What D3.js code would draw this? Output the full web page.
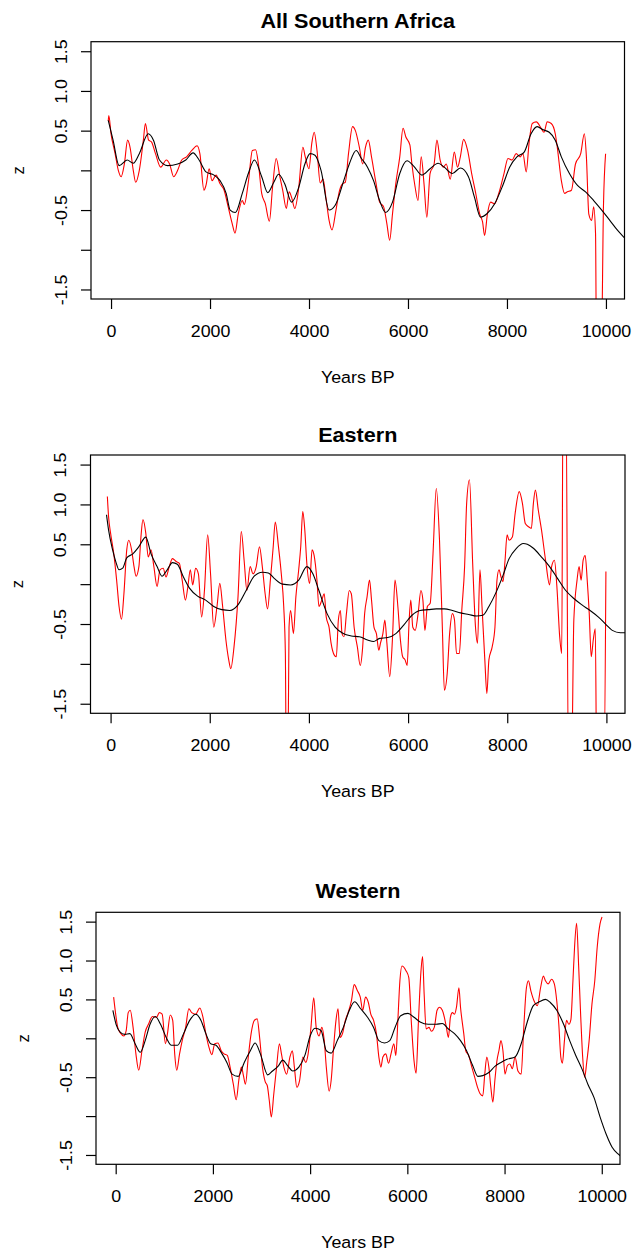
<!DOCTYPE html>
<html>
<head>
<meta charset="utf-8">
<script src="https://cdn.jsdelivr.net/npm/d3@7"></script>
<style>
  body { margin: 0; background: #fff; }
  svg text { font-family: "Liberation Sans", Arial, sans-serif; fill: #000; }
</style>
</head>
<body>
<div id="chart"></div>
<script>
// ---- data (years BP, z) ----
var xTicks = [0, 2000, 4000, 6000, 8000, 10000];
var yTicks = [-1.5, -1.0, -0.5, 0, 0.5, 1.0, 1.5];
var yTickLabels = {"-1.5": "-1.5", "-1": "", "-0.5": "-0.5", "0": "", "0.5": "0.5", "1": "1.0", "1.5": "1.5"};

var allRed = [[-57,0.62],[-45,0.69],[0,0.46],[82,0.21],[147,0],[204,-0.08],[269,0.08],[335,0.38],[384,0.29],[449,0],[498,-0.15],[571,0],[653,0.38],[694,0.59],[759,0.38],[816,0.36],[898,0.21],[1004,0.04],[1118,0.13],[1183,0.08],[1265,-0.08],[1346,0],[1428,0.13],[1526,0.17],[1632,0.25],[1738,0.31],[1795,0.21],[1877,-0.25],[1918,-0.19],[1983,0.02],[2040,-0.13],[2122,-0.06],[2203,-0.17],[2285,-0.25],[2367,-0.46],[2448,-0.67],[2505,-0.79],[2570,-0.55],[2652,-0.38],[2693,-0.43],[2774,-0.15],[2856,0.25],[2921,0.26],[2978,0.08],[3044,-0.29],[3117,-0.42],[3199,-0.64],[3264,-0.21],[3337,0.15],[3411,-0.08],[3468,-0.25],[3542,-0.48],[3599,-0.27],[3648,-0.34],[3713,-0.48],[3794,-0.21],[3876,0.29],[3925,0.17],[3999,0.02],[4056,0.34],[4105,0.48],[4162,0.25],[4227,-0.16],[4284,-0.11],[4349,-0.38],[4406,-0.63],[4464,-0.75],[4545,-0.5],[4610,-0.27],[4676,-0.17],[4733,-0.15],[4798,0.21],[4880,0.55],[4937,0.5],[5018,0.29],[5084,0.08],[5141,0.29],[5198,0.38],[5263,0.17],[5345,-0.13],[5427,-0.4],[5508,-0.46],[5573,-0.67],[5630,-0.88],[5687,-0.55],[5753,-0.17],[5834,0.17],[5900,0.53],[5957,0.42],[6038,0.32],[6079,0.08],[6144,-0.21],[6202,-0.38],[6267,0.17],[6324,-0.17],[6381,-0.59],[6446,-0.04],[6528,0.08],[6585,0.38],[6650,0.13],[6716,0.04],[6773,0.08],[6854,-0.11],[6936,0.23],[7001,0.04],[7058,0.17],[7124,0.39],[7205,0.25],[7287,-0.04],[7369,-0.29],[7450,-0.55],[7507,-0.65],[7548,-0.82],[7605,-0.55],[7670,-0.4],[7752,-0.42],[7834,-0.29],[7940,-0.04],[8021,0.15],[8103,0.13],[8185,0.21],[8266,0.17],[8323,0.21],[8389,-0.02],[8446,0.34],[8511,0.59],[8593,0.61],[8691,0.53],[8748,0.48],[8813,0.61],[8895,0.59],[8976,0.46],[9017,0.29],[9099,-0.13],[9164,-0.29],[9221,-0.27],[9303,-0.25],[9384,0.08],[9490,0.21],[9564,0.46],[9605,0.17],[9654,-0.55],[9711,-0.63],[9752,-0.46],[9790,-0.8],[9810,-2.4],[9905,-2.4],[9950,-0.45],[9993,0.21]];
var allSmooth = [[-57,0.63],[41,0.38],[163,0.06],[326,0.13],[449,0.09],[571,0.21],[751,0.46],[857,0.38],[979,0.13],[1142,0.06],[1346,0.08],[1510,0.13],[1657,0.22],[1779,0.13],[1918,-0.02],[2081,-0.06],[2203,-0.13],[2326,-0.29],[2407,-0.5],[2513,-0.53],[2652,-0.29],[2774,-0.04],[2897,0.13],[3044,-0.08],[3166,-0.28],[3289,-0.15],[3386,-0.05],[3509,-0.17],[3648,-0.4],[3794,-0.21],[3917,0.08],[4023,0.21],[4121,0.19],[4243,0],[4406,-0.5],[4529,-0.44],[4692,-0.15],[4814,0.08],[4953,0.25],[5059,0.15],[5182,0.04],[5304,-0.13],[5427,-0.38],[5549,-0.53],[5687,-0.4],[5834,-0.04],[5981,0.12],[6120,0.05],[6283,-0.06],[6446,0.02],[6610,0.09],[6732,0.04],[6895,-0.04],[7058,0.03],[7222,-0.08],[7344,-0.34],[7467,-0.59],[7589,-0.55],[7752,-0.42],[7915,-0.19],[8054,0.04],[8201,0.17],[8348,0.23],[8487,0.46],[8609,0.55],[8732,0.51],[8854,0.48],[8976,0.38],[9099,0.17],[9262,-0.04],[9425,-0.19],[9588,-0.27],[9752,-0.38],[9915,-0.5],[10078,-0.63],[10241,-0.76],[10421,-0.88]];

var eastRed = [[-65,1.1],[-41,0.85],[0,0.64],[65,0.38],[122,0.05],[171,-0.28],[220,-0.44],[269,-0.12],[326,0.43],[367,0.55],[424,0.43],[473,0.22],[514,0.1],[571,0.22],[612,0.59],[653,0.81],[710,0.64],[759,0.34],[816,0.43],[873,0.22],[938,-0.03],[996,0.18],[1061,0.2],[1118,0.09],[1183,0.22],[1248,0.32],[1330,0.28],[1387,0.26],[1444,0.05],[1510,-0.2],[1559,-0.03],[1608,0.18],[1657,-0.01],[1714,0.2],[1771,0.13],[1836,-0.41],[1893,-0.08],[1958,0.62],[2016,0.13],[2081,-0.54],[2146,-0.28],[2203,0.01],[2260,-0.28],[2326,-0.7],[2383,-0.95],[2424,-1.06],[2489,-0.79],[2570,-0.16],[2636,0.66],[2693,0.3],[2750,-0.08],[2815,0.22],[2872,0.13],[2938,0.22],[3003,0.47],[3060,0.22],[3117,-0.12],[3166,-0.31],[3223,0.05],[3280,0.47],[3321,0.78],[3386,0.47],[3443,0.13],[3492,-0.28],[3525,-0.87],[3545,-2.4],[3575,-2.4],[3599,-0.54],[3631,-0.33],[3688,-0.62],[3737,-0.16],[3794,0.18],[3835,0.47],[3876,0.91],[3917,0.68],[3958,0.26],[4015,0.01],[4064,0.43],[4105,0.36],[4162,0.05],[4202,-0.28],[4260,-0.2],[4309,-0.12],[4349,-0.41],[4406,-0.54],[4447,-0.74],[4512,-0.89],[4553,-0.91],[4594,-0.45],[4635,-0.33],[4667,-0.62],[4708,-0.66],[4757,-0.37],[4814,-0.08],[4855,-0.12],[4912,-0.54],[4978,-0.79],[5035,-1.02],[5084,-0.79],[5124,-0.37],[5173,-0.16],[5222,0.05],[5263,-0.2],[5312,-0.54],[5361,-0.62],[5410,-0.83],[5443,-0.74],[5492,-0.62],[5532,-0.45],[5573,-0.74],[5630,-1.16],[5687,-0.66],[5736,0.05],[5794,-0.28],[5834,-0.62],[5891,-0.91],[5940,-0.95],[5981,-1.02],[6022,-0.45],[6055,-0.2],[6095,-0.54],[6144,-0.58],[6202,-0.37],[6259,-0.08],[6299,-0.2],[6340,-0.58],[6389,-0.28],[6446,-0.24],[6503,0.38],[6569,1.2],[6634,0.55],[6691,-0.54],[6732,-1.33],[6789,-1.12],[6838,-0.62],[6895,-0.37],[6936,-0.45],[6977,-0.87],[7034,-0.87],[7083,-0.33],[7140,0.22],[7181,1.01],[7238,1.31],[7303,0.26],[7360,-0.54],[7401,-0.74],[7450,0.18],[7491,-0.28],[7548,-0.95],[7589,-1.37],[7630,-0.95],[7695,-0.79],[7752,-0.54],[7793,0.05],[7834,0.18],[7875,0.09],[7915,0.03],[7956,0.3],[7997,0.62],[8038,0.55],[8103,0.59],[8160,0.89],[8242,1.16],[8307,1.01],[8364,0.76],[8429,0.72],[8487,0.7],[8527,1.01],[8568,1.18],[8626,0.93],[8691,0.68],[8773,0.3],[8854,-0.01],[8895,0.22],[8952,0.3],[9001,-0.03],[9058,-0.66],[9099,-0.87],[9125,2.4],[9185,2.4],[9235,-2.4],[9295,-2.4],[9343,-0.45],[9408,0.05],[9449,0.22],[9490,0.05],[9531,0.3],[9572,0.36],[9613,0.05],[9654,-0.37],[9694,-0.91],[9735,-0.7],[9776,-0.56],[9805,-2.4],[9950,-2.4],[9990,0.16]];
var eastSmooth = [[-82,0.87],[-41,0.68],[41,0.43],[106,0.28],[171,0.18],[245,0.2],[326,0.33],[449,0.38],[571,0.47],[710,0.59],[816,0.38],[938,0.22],[1036,0.1],[1142,0.18],[1248,0.27],[1346,0.25],[1469,0.09],[1591,-0.05],[1754,-0.15],[1918,-0.2],[2081,-0.28],[2244,-0.32],[2407,-0.33],[2570,-0.26],[2734,-0.08],[2897,0.1],[3060,0.15],[3182,0.14],[3305,0.07],[3468,0],[3631,-0.01],[3794,0.05],[3958,0.22],[4080,0.13],[4202,-0.08],[4366,-0.37],[4529,-0.54],[4692,-0.62],[4855,-0.65],[5018,-0.66],[5182,-0.7],[5304,-0.72],[5427,-0.68],[5590,-0.67],[5753,-0.62],[5916,-0.51],[6079,-0.39],[6242,-0.33],[6406,-0.32],[6569,-0.31],[6732,-0.31],[6895,-0.33],[7058,-0.36],[7222,-0.38],[7385,-0.4],[7507,-0.39],[7630,-0.28],[7777,-0.1],[7915,0.11],[8038,0.32],[8185,0.45],[8323,0.51],[8405,0.5],[8527,0.45],[8691,0.34],[8854,0.22],[9017,0.07],[9180,-0.08],[9343,-0.18],[9507,-0.26],[9670,-0.33],[9834,-0.41],[9997,-0.51],[10118,-0.58],[10282,-0.61],[10421,-0.61]];

var westRed = [[-42,0.53],[0,0.31],[42,0.14],[108,0.06],[166,0.03],[216,0.1],[258,0.33],[299,0.36],[358,0.14],[416,-0.2],[474,-0.41],[541,-0.16],[607,0.08],[674,0.18],[757,0.28],[840,0.27],[898,0.33],[956,0.31],[1023,-0.07],[1065,0.06],[1123,0.3],[1173,0.23],[1214,-0.2],[1256,-0.41],[1314,-0.2],[1372,-0.02],[1439,0.14],[1505,0.38],[1564,0.33],[1647,0.31],[1730,0.39],[1796,0.27],[1855,0.06],[1921,-0.12],[1979,-0.21],[2038,-0.07],[2104,-0.06],[2171,-0.16],[2229,-0.2],[2296,-0.22],[2354,-0.37],[2420,-0.59],[2479,-0.79],[2537,-0.52],[2587,-0.37],[2628,-0.48],[2670,-0.59],[2728,-0.24],[2786,0.06],[2853,0.23],[2911,0.25],[2961,0.01],[3019,-0.37],[3077,-0.56],[3119,-0.61],[3160,-0.8],[3202,-1.01],[3252,-0.72],[3310,-0.37],[3368,-0.07],[3410,-0.2],[3460,-0.37],[3518,-0.46],[3585,-0.24],[3635,-0.16],[3676,-0.37],[3726,-0.63],[3784,-0.54],[3851,-0.24],[3909,-0.31],[3959,-0.2],[4017,0.14],[4075,0.52],[4125,0.14],[4183,0.03],[4241,0.14],[4291,-0.03],[4333,-0.37],[4391,-0.68],[4433,-0.54],[4483,-0.12],[4532,0.23],[4574,0.38],[4616,0.01],[4666,0.06],[4724,0.23],[4782,0.33],[4849,0.48],[4907,0.69],[4974,0.61],[5032,0.53],[5082,0.36],[5140,0.53],[5198,0.46],[5248,0.31],[5306,0.23],[5364,0.06],[5414,-0.24],[5456,-0.37],[5497,-0.24],[5556,-0.2],[5614,-0.32],[5664,-0.2],[5722,-0.07],[5764,-0.22],[5805,0.23],[5847,0.74],[5889,0.93],[5972,0.87],[6030,0.78],[6080,0.23],[6138,-0.29],[6180,-0.45],[6229,0.23],[6279,0.85],[6313,1.05],[6346,0.57],[6387,0.12],[6446,0.14],[6496,0.09],[6554,0.14],[6612,0.36],[6662,0.4],[6720,0.36],[6762,0.27],[6803,0.14],[6845,0.01],[6886,0.27],[6928,0.33],[6970,0.31],[7011,0.4],[7061,0.65],[7094,0.4],[7161,0.06],[7202,-0.16],[7261,-0.22],[7327,-0.37],[7385,-0.5],[7444,-0.63],[7494,-0.71],[7552,-0.74],[7593,-0.46],[7635,-0.24],[7677,-0.37],[7718,-0.63],[7760,-0.82],[7801,-0.54],[7843,-0.29],[7884,-0.16],[7926,-0.03],[7967,-0.16],[8009,-0.46],[8059,-0.35],[8109,-0.33],[8159,-0.39],[8217,-0.24],[8275,-0.42],[8342,-0.46],[8392,0.1],[8450,0.65],[8492,0.74],[8541,0.61],[8608,0.48],[8675,0.42],[8741,0.65],[8799,0.8],[8841,0.74],[8899,0.7],[8966,0.76],[9024,0.7],[9074,0.48],[9116,0.18],[9157,-0.24],[9190,-0.32],[9232,-0.03],[9274,0.23],[9324,0.18],[9365,0.24],[9407,0.74],[9440,1.17],[9482,1.48],[9523,0.95],[9565,0.31],[9607,-0.24],[9648,-0.5],[9690,-0.31],[9740,-0.03],[9798,0.44],[9856,0.74],[9906,1.17],[9964,1.47],[10005,1.56]];
var westSmooth = [[-58,0.36],[8,0.18],[91,0.08],[191,0.05],[291,0.06],[399,-0.07],[507,-0.18],[607,-0.03],[707,0.18],[815,0.28],[923,0.18],[1040,0.01],[1148,-0.09],[1272,-0.09],[1397,0.06],[1522,0.23],[1647,0.31],[1755,0.23],[1855,0.06],[1955,-0.07],[2063,-0.09],[2188,-0.2],[2287,-0.31],[2395,-0.46],[2520,-0.49],[2645,-0.31],[2770,-0.16],[2869,-0.06],[2977,-0.2],[3127,-0.47],[3227,-0.42],[3352,-0.35],[3435,-0.28],[3535,-0.35],[3643,-0.42],[3768,-0.37],[3892,-0.22],[4000,0.03],[4100,0.13],[4225,0.1],[4333,-0.16],[4433,-0.19],[4558,-0.03],[4683,0.14],[4807,0.36],[4915,0.47],[5040,0.38],[5181,0.27],[5306,0.14],[5414,-0.03],[5531,-0.06],[5639,-0.03],[5747,0.14],[5863,0.29],[6013,0.32],[6138,0.27],[6263,0.21],[6429,0.18],[6595,0.18],[6720,0.19],[6845,0.12],[6970,0.06],[7094,-0.03],[7219,-0.16],[7344,-0.35],[7452,-0.49],[7552,-0.48],[7677,-0.44],[7801,-0.36],[7926,-0.31],[8051,-0.27],[8217,-0.24],[8342,-0.07],[8467,0.21],[8592,0.42],[8717,0.47],[8841,0.5],[8941,0.46],[9074,0.36],[9215,0.18],[9340,-0.03],[9465,-0.22],[9590,-0.39],[9714,-0.59],[9839,-0.76],[9964,-1.01],[10089,-1.23],[10213,-1.4],[10321,-1.48],[10380,-1.51]];

// ---- layout ----
var W = 632, H = 1253;
var axisFont = 16.5, titleFont = 20, stretch = 1.08;

var panels = [
  {title: "All Southern Africa", red: allRed, black: allSmooth, left: 91, right: 624.5, top: 41.7, bottom: 299, titleY: 28},
  {title: "Eastern", red: eastRed, black: eastSmooth, left: 90.5, right: 625, top: 455, bottom: 713.3, titleY: 442},
  {title: "Western", red: westRed, black: westSmooth, left: 96, right: 620, top: 912.3, bottom: 1164.3, titleY: 898}
];

var svg = d3.select("#chart").append("svg")
  .attr("width", W)
  .attr("height", H);

panels.forEach(function(p, i) {
  var x = d3.scaleLinear().domain([-405, 10375]).range([p.left, p.right]);
  var y = d3.scaleLinear().domain([-1.62, 1.62]).range([p.bottom, p.top]);
  var midX = (p.left + p.right) / 2, midY = (p.top + p.bottom) / 2;

  var clipId = "clip" + i;
  svg.append("clipPath").attr("id", clipId)
    .append("rect")
      .attr("x", p.left).attr("y", p.top)
      .attr("width", p.right - p.left).attr("height", p.bottom - p.top);

  var line = d3.line()
    .x(function(d) { return x(d[0]); })
    .y(function(d) { return y(d[1]); })
    .curve(d3.curveMonotoneX);

  var g = svg.append("g").attr("clip-path", "url(#" + clipId + ")");
  g.append("path").datum(p.red)
    .attr("d", line)
    .attr("fill", "none").attr("stroke", "#ff0000").attr("stroke-width", 1.1);
  g.append("path").datum(p.black)
    .attr("d", line)
    .attr("fill", "none").attr("stroke", "#000").attr("stroke-width", 1.1);

  // box
  svg.append("rect")
    .attr("x", p.left).attr("y", p.top)
    .attr("width", p.right - p.left).attr("height", p.bottom - p.top)
    .attr("fill", "none").attr("stroke", "#000").attr("stroke-width", 1.2);

  // x axis
  var xa = svg.append("g")
    .attr("transform", "translate(0," + p.bottom + ")")
    .call(d3.axisBottom(x).tickValues(xTicks).tickSize(10).tickSizeOuter(0).tickFormat(d3.format("d")));
  xa.select(".domain").remove();
  xa.selectAll("line").attr("stroke", "#000").attr("stroke-width", 1.2);
  xa.selectAll("text")
    .attr("font-size", axisFont)
    .attr("y", 0).attr("dy", 0)
    .attr("transform", "translate(0,38) scale(" + stretch + ",1)");

  // y axis
  var ya = svg.append("g")
    .attr("transform", "translate(" + p.left + ",0)")
    .call(d3.axisLeft(y).tickValues(yTicks).tickSize(10).tickSizeOuter(0)
      .tickFormat(function(d) { return yTickLabels[String(d)]; }));
  ya.select(".domain").remove();
  ya.selectAll("line").attr("stroke", "#000").attr("stroke-width", 1.2);
  ya.selectAll("text")
    .attr("font-size", axisFont)
    .attr("text-anchor", "middle")
    .attr("x", 0).attr("y", 0).attr("dy", "0.35em")
    .attr("transform", "translate(-30,0) rotate(-90) scale(" + stretch + ",1)");

  // title
  svg.append("text")
    .attr("transform", "translate(" + midX + "," + p.titleY + ") scale(" + stretch + ",1)")
    .attr("text-anchor", "middle")
    .attr("font-size", titleFont)
    .attr("font-weight", "bold")
    .text(p.title);

  // axis titles
  svg.append("text")
    .attr("transform", "translate(" + midX + "," + (p.bottom + 84) + ") scale(" + stretch + ",1)")
    .attr("text-anchor", "middle")
    .attr("font-size", axisFont)
    .text("Years BP");

  svg.append("text")
    .attr("transform", "translate(" + (p.left - 73) + "," + midY + ") rotate(-90)")
    .attr("text-anchor", "middle")
    .attr("dy", "0.35em")
    .attr("font-size", axisFont)
    .text("z");
});
</script>
</body>
</html>
